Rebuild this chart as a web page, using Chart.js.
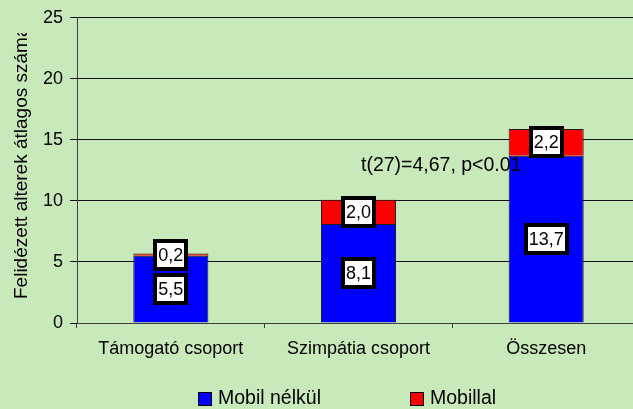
<!DOCTYPE html>
<html>
<head>
<meta charset="utf-8">
<script src="https://cdn.jsdelivr.net/npm/chart.js@4.4.1/dist/chart.umd.min.js"></script>
<style>
  html, body { margin: 0; padding: 0; overflow: hidden; background: #C8E9B9; }
  #wrap { width: 640px; height: 409px; }
</style>
</head>
<body>
<div id="wrap"><canvas id="c" width="640" height="409"></canvas></div>
<script>
const categories = ['Támogató csoport', 'Szimpátia csoport', 'Összesen'];
const mobilNelkul = [5.5, 8.1, 13.7];
const mobillal = [0.2, 2.0, 2.2];
const seriesNames = ['Mobil nélkül', 'Mobillal'];
const yTitle = 'Felidézett alterek átlagos száma';
const annotationText = 't(27)=4,67, p<0.01';

const FONT = '"Liberation Sans", Arial, sans-serif';

const bgPlugin = {
  id: 'bg',
  beforeDraw(chart) {
    const ctx = chart.ctx;
    ctx.save();
    ctx.fillStyle = '#C8E9B9';
    ctx.fillRect(0, 0, chart.width, chart.height);
    ctx.restore();
  }
};

const extrasPlugin = {
  id: 'extras',
  afterDatasetsDraw(chart) {
    const ctx = chart.ctx;
    ctx.save();
    // annotation
    ctx.fillStyle = '#000';
    ctx.font = '19.5px ' + FONT;
    ctx.textAlign = 'left';
    ctx.textBaseline = 'alphabetic';
    ctx.fillText(annotationText, 361, 171);

    // value labels
    ctx.font = '18px ' + FONT;
    ctx.textAlign = 'center';
    ctx.textBaseline = 'middle';
    chart.data.datasets.forEach((ds, di) => {
      const meta = chart.getDatasetMeta(di);
      meta.data.forEach((el, i) => {
        const txt = ds.data[i].toFixed(1).replace('.', ',');
        const cx = el.x;
        const cy = (el.y + el.base) / 2;
        const tw = ctx.measureText(txt).width;
        const iw = Math.round(tw + 2), ih = 24, b = 4;
        const x0 = Math.round(cx - iw / 2), y0 = Math.round(cy - ih / 2);
        ctx.fillStyle = '#000';
        ctx.fillRect(x0 - b, y0 - b, iw + 2 * b, ih + 2 * b);
        ctx.fillStyle = '#fff';
        ctx.fillRect(x0, y0, iw, ih);
        ctx.fillStyle = '#000';
        ctx.fillText(txt, cx, cy + 1);
      });
    });

    // y axis title (clipped at the top like the original)
    ctx.save();
    ctx.beginPath();
    ctx.rect(0, 33, 60, 360);
    ctx.clip();
    ctx.translate(27, 299);
    ctx.rotate(-Math.PI / 2);
    ctx.font = '19px ' + FONT;
    ctx.textAlign = 'left';
    ctx.textBaseline = 'alphabetic';
    ctx.fillStyle = '#000';
    ctx.fillText(yTitle, 0, 0);
    ctx.restore();

    // legend
    const legendX = [198, 410];
    ctx.font = '19.5px ' + FONT;
    ctx.textAlign = 'left';
    ctx.textBaseline = 'middle';
    chart.data.datasets.forEach((ds, di) => {
      const x = legendX[di];
      ctx.fillStyle = ds.backgroundColor;
      ctx.fillRect(x, 392, 14, 14);
      ctx.strokeStyle = '#000';
      ctx.lineWidth = 1;
      ctx.strokeRect(x + 0.5, 392.5, 13, 13);
      ctx.fillStyle = '#000';
      ctx.fillText(ds.label, x + 20, 399);
    });
    ctx.restore();
  }
};

new Chart(document.getElementById('c'), {
  type: 'bar',
  data: {
    labels: categories,
    datasets: [
      { label: seriesNames[0], data: mobilNelkul, backgroundColor: '#0000FF', borderColor: '#1a1a1a', borderWidth: 1 },
      { label: seriesNames[1], data: mobillal, backgroundColor: '#FF0000', borderColor: '#1a1a1a', borderWidth: 1 }
    ]
  },
  options: {
    responsive: false,
    animation: false,
    devicePixelRatio: 1,
    layout: { padding: { top: 16, left: 0, right: 0, bottom: 0 } },
    plugins: { legend: { display: false }, tooltip: { enabled: false } },
    datasets: { bar: { categoryPercentage: 1, barPercentage: 0.4 } },
    scales: {
      x: {
        stacked: true,
        afterFit(s) { s.height = 86; },
        grid: { drawOnChartArea: false, drawTicks: true, tickLength: 5, color: '#404040', offset: true },
        border: { color: '#404040', width: 1 },
        ticks: { color: '#000', font: { family: FONT, size: 18 }, padding: 10, maxRotation: 0 }
      },
      y: {
        stacked: true,
        min: 0, max: 25,
        afterFit(s) { s.width = 77; },
        grid: { color: '#111111', lineWidth: 1, drawTicks: true, tickLength: 7 },
        border: { color: '#404040', width: 1 },
        ticks: { stepSize: 5, color: '#000', font: { family: FONT, size: 18 }, padding: 7 }
      }
    }
  },
  plugins: [bgPlugin, extrasPlugin]
});
</script>
</body>
</html>
